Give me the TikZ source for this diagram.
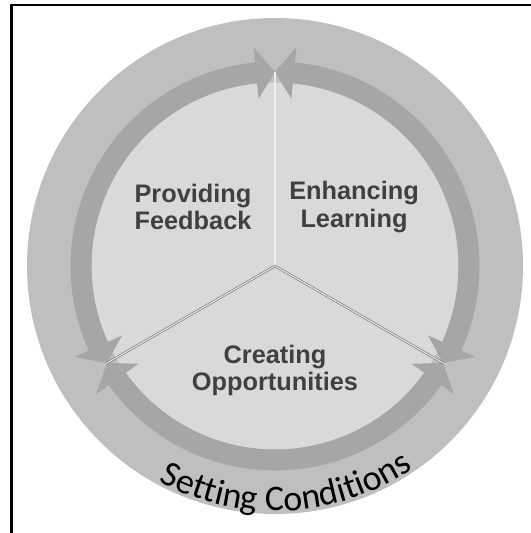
\documentclass[tikz,border=0pt]{standalone}
\usepackage{fontspec}
\setmainfont{Liberation Sans}
\newfontfamily\condfont{Carlito}
\usetikzlibrary{decorations.text}
\definecolor{ringgray}{RGB}{191,191,191}
\definecolor{bandgray}{RGB}{166,166,166}
\definecolor{fillgray}{RGB}{217,217,217}
\definecolor{labelgray}{RGB}{64,64,64}

\begin{document}
\begin{tikzpicture}[x=0.75pt,y=0.75pt,
  band/.style={draw=bandgray,line width=15.75pt},
  head/.style={fill=bandgray},
  spoke/.style={draw=gray!90!black,line width=0.5pt,double=white!85!gray,double distance=0.8pt},
  label/.style={text=labelgray,font=\bfseries\fontsize{19}{20.5}\selectfont,align=center}]
\useasboundingbox (-275,-267) rectangle (256,266);
\clip (-275,-267) rectangle (256,266);
% frame
\draw[line width=1.9pt] (-263.5,-300) -- (-263.5,261) -- (300,261);
% rings
\fill[ringgray] (0,0) circle (248);
\fill[fillgray] (0,0) circle (183.5);
% arrow bands
\draw[band] (94:194) arc[start angle=94, end angle=206, radius=194];
\draw[band] (214:194) arc[start angle=214, end angle=326, radius=194];
\draw[band] (334:194) arc[start angle=334, end angle=446, radius=194];
% arrow heads
\fill[head] (90:194) -- (95.6:168) -- (95.6:220) -- cycle;
\fill[head] (210:194) -- (204.4:168) -- (204.4:220) -- cycle;
\fill[head] (210:194) -- (215.6:168) -- (215.6:220) -- cycle;
\fill[head] (330:194) -- (324.4:168) -- (324.4:220) -- cycle;
\fill[head] (330:194) -- (335.6:168) -- (335.6:220) -- cycle;
\fill[head] (90:194) -- (84.4:168) -- (84.4:220) -- cycle;
% spokes
\coordinate (ctr) at (0,0);
\coordinate (tiptop) at (90:194);
\coordinate (tipleft) at (210:194);
\coordinate (tipright) at (330:194);
\draw[spoke] (ctr) -- (tiptop);
\draw[spoke] (ctr) -- (tipleft);
\draw[spoke] (ctr) -- (tipright);
% labels
\node[label] (fb) at (-82,59) {Providing\\Feedback};
\node[label] (el) at (79,59) {Enhancing\\Learning};
\node[label] (co) at (0,-104.5) {Creating\\Opportunities};
\path[decorate,decoration={text along path,text align=center,
  text format delimiters={|}{|},
  text={|\condfont\fontsize{27}{27}\selectfont|Setting Conditions}}]
  (216:245) arc[start angle=216, end angle=330, radius=245];
\end{tikzpicture}
\end{document}
